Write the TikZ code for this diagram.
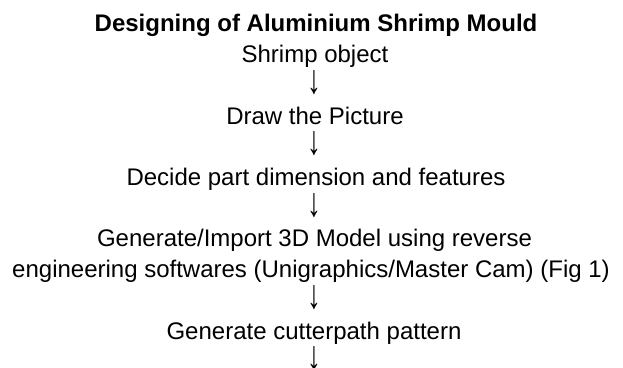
\documentclass[tikz,border=0pt]{standalone}
\usepackage{fontspec}
\setmainfont{Liberation Sans}
\newcommand{\downarr}{\scalebox{1.15}[1.7]{↓}}
\begin{document}
\begin{tikzpicture}[x=0.75pt,y=-0.75pt,
  line/.style={anchor=base,inner sep=0pt,font=\fontsize{18}{21}\selectfont},
  title/.style={line,font=\fontsize{18}{21}\selectfont\bfseries},
  arr/.style={line}]
\useasboundingbox (0,0) rectangle (623,367);
\node[title] (t) at (316,32) {Designing of Aluminium Shrimp Mould};
\node[line] (l1) at (315,62.7) {Shrimp object};
\node[arr] (a1) at (314,93.4) {\downarr};
\node[line] (l2) at (315,124.1) {Draw the Picture};
\node[arr] (a2) at (314,154.8) {\downarr};
\node[line] (l3) at (316,185.5) {Decide part dimension and features};
\node[arr] (a3) at (314,216.2) {\downarr};
\node[line] (l4) at (314.5,246.9) {Generate/Import 3D Model using reverse};
\node[line] (l5) at (311,277.6) {engineering softwares (Unigraphics/Master Cam) (Fig 1)};
\node[arr] (a4) at (314,308.3) {\downarr};
\node[line] (l6) at (314,339) {Generate cutterpath pattern};
\node[arr] (a5) at (314,369.7) {\downarr};
\end{tikzpicture}
\end{document}
